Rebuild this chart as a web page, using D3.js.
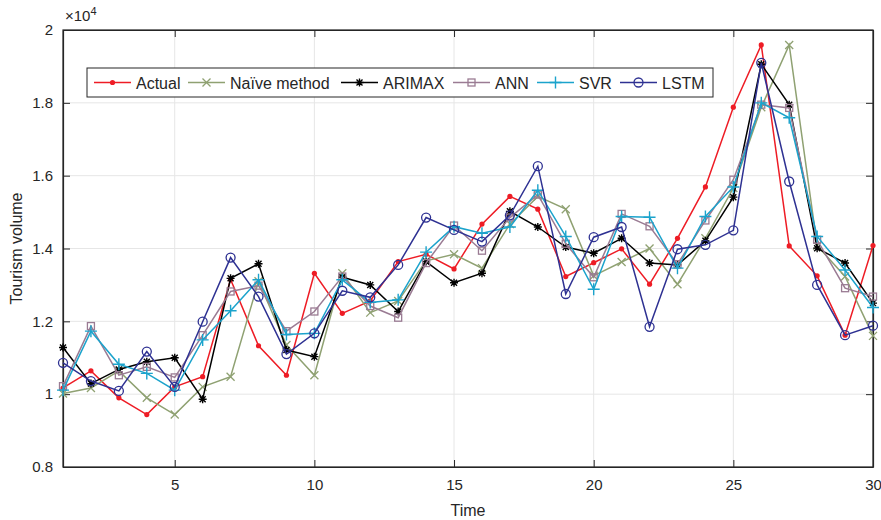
<!DOCTYPE html>
<html>
<head>
<meta charset="utf-8">
<script src="https://cdn.jsdelivr.net/npm/d3@7"></script>
<style>
  body { margin: 0; background: #fff; }
  text { font-family: "Liberation Sans", Arial, sans-serif; fill: #262626; }
</style>
</head>
<body>
<div id="chart"></div>
<script>
const time = d3.range(1, 31);
const actual = [1.017, 1.064, 0.990, 0.944, 1.020, 1.048, 1.315, 1.133, 1.052, 1.332,
  1.222, 1.256, 1.364, 1.384, 1.344, 1.467, 1.543, 1.508, 1.323, 1.361,
  1.399, 1.302, 1.428, 1.569, 1.788, 1.959, 1.407, 1.325, 1.162, 1.408];
const naive = [1.002, 1.017, 1.064, 0.990, 0.944, 1.020, 1.048, 1.310, 1.135, 1.052,
  1.332, 1.224, 1.256, 1.366, 1.384, 1.346, 1.467, 1.543, 1.508, 1.325,
  1.363, 1.400, 1.302, 1.428, 1.566, 1.788, 1.959, 1.408, 1.323, 1.160];
const arimax = [1.128, 1.029, 1.068, 1.089, 1.100, 0.986, 1.318, 1.358, 1.121, 1.103,
  1.321, 1.300, 1.227, 1.364, 1.306, 1.332, 1.502, 1.459, 1.404, 1.387,
  1.428, 1.360, 1.355, 1.421, 1.541, 1.906, 1.795, 1.401, 1.360, 1.250];
const ann = [1.022, 1.187, 1.052, 1.075, 1.046, 1.162, 1.282, 1.298, 1.173, 1.227,
  1.323, 1.242, 1.210, 1.360, 1.463, 1.394, 1.485, 1.548, 1.413, 1.321,
  1.495, 1.461, 1.357, 1.477, 1.589, 1.795, 1.786, 1.424, 1.291, 1.268];
const svr = [1.011, 1.173, 1.082, 1.057, 1.011, 1.149, 1.229, 1.314, 1.164, 1.167,
  1.314, 1.252, 1.259, 1.390, 1.460, 1.442, 1.459, 1.560, 1.433, 1.288,
  1.488, 1.486, 1.346, 1.488, 1.569, 1.800, 1.759, 1.433, 1.341, 1.238];
const lstm = [1.086, 1.036, 1.009, 1.117, 1.020, 1.199, 1.375, 1.268, 1.110, 1.167,
  1.284, 1.266, 1.355, 1.485, 1.451, 1.419, 1.491, 1.626, 1.275, 1.431,
  1.459, 1.185, 1.398, 1.410, 1.450, 1.910, 1.584, 1.300, 1.162, 1.188];
const xTicks = [5, 10, 15, 20, 25, 30];
const yTicks = [0.8, 1, 1.2, 1.4, 1.6, 1.8, 2];

const series = [
  { name: "Actual", values: actual, color: "#ee1c25", marker: "dot" },
  { name: "Naïve method", values: naive, color: "#8fa172", marker: "cross" },
  { name: "ARIMAX", values: arimax, color: "#000000", marker: "star" },
  { name: "ANN", values: ann, color: "#9a7b93", marker: "square" },
  { name: "SVR", values: svr, color: "#1ba3cc", marker: "plus" },
  { name: "LSTM", values: lstm, color: "#2e3192", marker: "circle" }
];

const W = 881, H = 520;
const margin = { top: 30, right: 8, bottom: 53, left: 63 };
const width = W - margin.left - margin.right;
const height = H - margin.top - margin.bottom;

const svg = d3.select("#chart").append("svg")
  .attr("width", W).attr("height", H);
const g = svg.append("g")
  .attr("transform", `translate(${margin.left},${margin.top})`);

const x = d3.scaleLinear().domain([1, 30]).range([0, width]);
const y = d3.scaleLinear().domain([0.8, 2]).range([height, 0]);

// grid
g.append("g").selectAll("line").data(xTicks).enter().append("line")
  .attr("x1", d => x(d)).attr("x2", d => x(d))
  .attr("y1", 0).attr("y2", height)
  .attr("stroke", "#e6e6e6").attr("stroke-width", 1);
g.append("g").selectAll("line").data(yTicks).enter().append("line")
  .attr("x1", 0).attr("x2", width)
  .attr("y1", d => y(d)).attr("y2", d => y(d))
  .attr("stroke", "#e6e6e6").attr("stroke-width", 1);

// axes (ticks inward, MATLAB style)
const tickFmt = d => d3.format("~g")(d);
g.append("g").attr("class", "axis")
  .attr("transform", `translate(0,${height})`)
  .call(d3.axisBottom(x).tickValues(xTicks).tickSizeInner(-7).tickSizeOuter(0).tickPadding(12).tickFormat(tickFmt));
g.append("g").attr("class", "axis")
  .call(d3.axisTop(x).tickValues(xTicks).tickSizeInner(-7).tickSizeOuter(0).tickFormat(""));
g.append("g").attr("class", "axis")
  .call(d3.axisLeft(y).tickValues(yTicks).tickSizeInner(-7).tickSizeOuter(0).tickPadding(10).tickFormat(tickFmt));
g.append("g").attr("class", "axis")
  .attr("transform", `translate(${width},0)`)
  .call(d3.axisRight(y).tickValues(yTicks).tickSizeInner(-7).tickSizeOuter(0).tickFormat(""));
g.selectAll(".axis .domain").attr("stroke", "#262626").attr("stroke-width", 1.2);
g.selectAll(".axis line").attr("stroke", "#262626");
g.selectAll(".axis text").style("font-size", "15px").attr("fill", "#262626");

// box
g.append("rect").attr("width", width).attr("height", height)
  .attr("fill", "none").attr("stroke", "#262626").attr("stroke-width", 1.2);

// exponent
const exp = g.append("text").attr("x", 2).attr("y", -9).style("font-size", "15px");
exp.append("tspan").text("×10");
exp.append("tspan").attr("dy", -6).style("font-size", "11px").text("4");

// axis labels
svg.append("text")
  .attr("x", margin.left + width / 2).attr("y", 516)
  .attr("text-anchor", "middle").style("font-size", "16px").text("Time");
svg.append("text")
  .attr("transform", `translate(22,${margin.top + height / 2}) rotate(-90)`)
  .attr("text-anchor", "middle").style("font-size", "16px").text("Tourism volume");

function drawMarker(sel, type, color) {
  if (type === "dot") {
    sel.append("circle").attr("r", 2.6).attr("fill", color);
  } else if (type === "circle") {
    sel.append("circle").attr("r", 4.5).attr("fill", "none").attr("stroke", color).attr("stroke-width", 1.3);
  } else if (type === "square") {
    sel.append("rect").attr("x", -3.5).attr("y", -3.5).attr("width", 7).attr("height", 7)
      .attr("fill", "none").attr("stroke", color).attr("stroke-width", 1.3);
  } else if (type === "plus") {
    sel.append("path").attr("d", "M-6,0H6M0,-6V6").attr("stroke", color).attr("stroke-width", 1.4);
  } else if (type === "cross") {
    sel.append("path").attr("d", "M-4,-4L4,4M-4,4L4,-4").attr("stroke", color).attr("stroke-width", 1.3);
  } else if (type === "star") {
    sel.append("path").attr("d", "M-4,0H4M0,-4V4M-3,-3L3,3M-3,3L3,-3").attr("stroke", color).attr("stroke-width", 1.4);
  }
}

const line = d3.line().x((d, i) => x(time[i])).y(d => y(d));

series.forEach(s => {
  const sg = g.append("g");
  sg.append("path").datum(s.values)
    .attr("d", line).attr("fill", "none")
    .attr("stroke", s.color).attr("stroke-width", 1.5);
  sg.selectAll("g.m").data(s.values).enter().append("g")
    .attr("class", "m")
    .attr("transform", (d, i) => `translate(${x(time[i])},${y(d)})`)
    .each(function () { drawMarker(d3.select(this), s.marker, s.color); });
});

// legend
const legendX = [7, 101, 254, 366, 450, 533];
const lg = g.append("g").attr("transform", "translate(24,38)");
lg.append("rect").attr("x", 0).attr("y", 0).attr("width", 626).attr("height", 29)
  .attr("fill", "#fff").attr("stroke", "#262626").attr("stroke-width", 1);
series.forEach((s, i) => {
  const e = lg.append("g").attr("transform", `translate(${legendX[i]},14.5)`);
  e.append("line").attr("x1", 0).attr("x2", 37).attr("stroke", s.color).attr("stroke-width", 1.5);
  drawMarker(e.append("g").attr("transform", "translate(18.5,0)"), s.marker, s.color);
  e.append("text").attr("x", 42).attr("y", 6).style("font-size", "16px").text(s.name);
});
</script>
</body>
</html>
